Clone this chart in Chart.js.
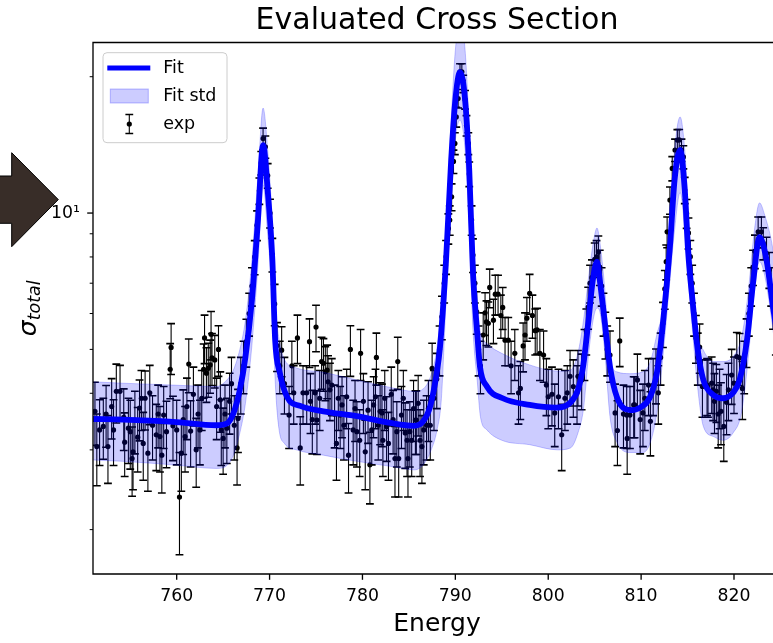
<!DOCTYPE html>
<html><head><meta charset="utf-8">
<script src="https://cdn.jsdelivr.net/npm/chart.js@4.4.1/dist/chart.umd.min.js"></script>
<style>
html,body{margin:0;padding:0;overflow:hidden;background:#fff;width:773px;height:643px}
#wrap{position:absolute;left:0;top:0;width:800px;height:643px}
</style></head><body>
<div id="wrap"><canvas id="c" width="800" height="643"></canvas></div>
<script>
const titleText = "Evaluated Cross Section";
const xLabel = "Energy";
const yLabelMain = "σ";
const yLabelSub = "total";
const legendLabels = ["Fit", "Fit std", "exp"];
const xTickValues = [760, 770, 780, 790, 800, 810, 820];
const yTickValues = [2, 3, 4, 5, 6, 7, 8, 9, 10, 20];
const yTickLabels = {10: "10¹"};
const xMin = 750.99, xMax = 825.06;
const yMin = 1.596, yMax = 23.8;

const expEnergy = [
751.2,751.4,751.7,752.1,752.4,752.6,753.0,753.2,753.5,753.9,
754.3,754.4,754.8,755.0,755.2,755.3,755.5,755.8,756.0,756.2,
756.4,756.6,756.9,757.1,757.4,757.8,758.0,758.2,758.4,758.6,
758.9,759.3,759.4,759.6,760.0,760.3,760.5,760.7,760.9,761.1,
761.3,761.5,761.8,762.1,762.3,762.5,762.7,762.9,763.0,763.2,
763.4,763.6,763.7,763.8,764.1,764.3,764.5,764.7,764.8,765.0,
765.2,765.4,765.7,765.9,766.2,766.5,766.6,766.9,767.2,767.5,
767.8,768.1,768.4,768.65,768.9,769.1,769.3,769.55,769.8,770.05,
770.3,770.55,770.8,771.1,771.3,771.6,772.1,772.4,772.6,773.0,
773.3,773.6,774.0,774.3,774.4,774.6,774.9,775.0,775.1,775.4,
775.6,775.8,776.0,776.2,776.3,776.5,776.7,777.0,777.2,777.4,
777.6,777.8,778.0,778.3,778.5,778.7,779.0,779.2,779.4,779.7,
779.8,780.1,780.3,780.6,780.8,781.0,781.2,781.4,781.5,781.7,
781.9,782.1,782.2,782.4,782.6,782.8,783.1,783.3,783.5,783.7,
783.8,783.9,784.2,784.4,784.6,784.8,784.9,785.1,785.3,785.5,
785.7,785.8,786.0,786.2,786.4,786.6,786.9,787.1,787.3,787.5,
787.7,788.0,788.3,788.55,788.8,789.0,789.25,789.4,789.6,789.8,
789.95,790.1,790.3,790.5,790.7,790.85,791.05,791.2,791.4,791.5,
791.75,791.9,792.1,792.3,792.5,792.7,793.0,793.2,793.35,793.55,
793.7,794.1,794.3,794.6,794.9,795.1,795.35,795.7,796.0,796.4,
796.8,797.0,797.3,797.5,797.7,798.0,798.3,798.6,798.8,799.1,
799.5,799.8,800.0,800.4,800.7,801.1,801.45,801.8,802.05,802.35,
802.7,803.1,803.2,803.6,803.9,804.1,804.3,804.5,804.7,805.0,
805.2,805.4,805.55,805.75,805.95,806.15,806.35,806.65,807.2,807.45,
807.7,808.1,808.45,808.5,808.8,809.2,809.3,809.6,809.9,810.2,
810.4,810.8,811.0,811.3,811.6,811.85,812.1,812.35,812.55,812.7,
812.8,813.1,813.35,813.65,813.9,814.1,814.35,814.55,814.7,814.9,
815.1,815.3,815.5,815.7,815.9,816.1,816.3,816.6,817.1,817.2,
817.6,817.75,817.9,818.1,818.3,818.45,818.6,818.9,819.2,819.4,
819.75,820.0,820.3,820.6,820.9,821.1,821.35,821.6,821.85,822.05,
822.25,822.6,822.95,823.15,823.5,823.8,824.0,824.2,824.5
];
const expSigma = [
3.65,3.05,3.32,3.38,3.60,3.05,3.74,3.32,4.04,4.04,
3.54,3.12,3.35,3.29,2.87,2.97,3.49,3.20,3.71,3.90,
3.10,3.90,2.95,4.01,3.40,3.24,3.60,3.21,2.92,3.58,
3.29,4.52,5.05,3.39,3.32,2.36,2.95,3.50,3.21,3.74,
4.64,3.30,3.98,3.00,3.60,3.32,3.90,4.52,5.30,4.43,
4.54,4.62,5.40,4.79,4.74,3.74,5.00,3.87,3.32,3.18,
3.60,3.35,3.84,4.20,3.40,3.03,3.52,4.20,4.60,5.20,
6.00,6.90,8.00,9.40,11.20,12.90,14.60,14.00,12.10,10.00,
8.10,6.30,5.10,4.60,4.98,4.20,3.58,4.60,4.01,5.30,
3.03,4.01,4.01,5.20,3.84,3.50,4.01,5.60,3.49,3.90,
4.70,4.66,4.46,4.50,4.24,4.07,4.17,3.60,3.10,3.90,
3.58,3.77,3.40,3.93,2.92,5.00,3.32,3.70,3.29,3.15,
4.90,3.84,2.97,3.67,2.78,3.32,3.77,3.93,4.80,3.40,
3.65,3.62,3.15,3.90,3.38,3.10,3.98,3.50,2.87,3.29,
4.70,2.87,3.58,3.90,3.27,3.15,2.87,3.29,3.15,3.70,
3.49,3.49,3.80,3.15,3.05,3.32,3.40,3.70,3.40,4.54,
3.90,4.30,5.00,5.90,7.00,8.01,9.25,9.65,10.86,13.00,
14.25,16.30,17.90,20.50,20.50,19.30,17.80,15.60,14.25,12.20,
9.65,8.08,7.00,6.05,5.00,4.60,5.38,6.02,5.75,5.71,
6.85,5.80,6.62,6.62,5.94,6.19,5.24,5.24,4.60,4.90,
4.01,4.10,5.09,5.38,5.86,6.65,5.94,5.50,5.52,4.90,
4.86,4.17,3.93,3.98,3.62,3.93,3.24,3.90,4.01,4.36,
4.14,4.01,4.36,4.28,4.90,5.50,6.20,7.00,7.20,7.90,
8.00,8.20,7.60,6.90,6.00,5.40,5.00,4.86,3.62,3.31,
5.22,3.60,3.58,3.18,3.58,3.77,3.77,4.28,3.50,3.62,
3.90,4.17,3.47,4.17,4.40,4.01,4.80,5.70,6.80,7.81,
9.09,10.68,12.55,13.78,14.49,14.50,13.78,13.30,11.24,9.98,
9.04,8.01,7.00,6.00,5.30,4.80,5.06,4.14,4.17,4.14,
4.21,4.07,3.84,4.04,3.60,3.93,3.65,3.38,3.82,4.07,
4.39,4.21,4.82,4.79,4.10,4.60,5.20,6.00,6.90,7.60,
8.24,9.09,9.09,8.58,8.15,7.50,6.90,6.20,5.50
];
const expErr = [
.58,.55,.55,.52,.56,.52,.57,.55,.60,.57,
.55,.50,.55,.57,.50,.52,.55,.52,.57,.59,
.53,.58,.52,.60,.55,.54,.57,.53,.51,.56,
.55,.63,.65,.55,.54,.60,.52,.57,.53,.58,
.63,.55,.59,.52,.57,.54,.59,.62,.65,.61,
.62,.62,.66,.63,.63,.58,.64,.59,.55,.53,
.57,.55,.59,.60,.55,.52,.56,.60,.61,.63,
.65,.67,.69,.71,.75,.77,.80,.79,.76,.73,
.69,.66,.63,.61,.63,.60,.56,.61,.59,.65,
.52,.59,.59,.64,.58,.56,.59,.66,.56,.59,
.62,.62,.61,.61,.60,.59,.60,.57,.53,.59,
.56,.58,.55,.59,.51,.64,.54,.57,.54,.53,
.63,.58,.52,.57,.50,.54,.58,.59,.63,.55,
.57,.57,.53,.59,.55,.53,.59,.56,.51,.54,
.62,.51,.56,.59,.54,.53,.51,.54,.53,.57,
.56,.56,.58,.53,.52,.54,.55,.57,.55,.62,
.59,.60,.63,.65,.67,.69,.71,.72,.74,.77,
.79,.82,.84,.87,.87,.85,.84,.81,.79,.76,
.72,.69,.67,.65,.63,.61,.64,.65,.65,.65,
.67,.65,.67,.67,.65,.66,.64,.64,.61,.63,
.59,.60,.63,.64,.65,.67,.65,.64,.64,.63,
.63,.60,.59,.59,.57,.59,.54,.59,.59,.61,
.60,.59,.61,.60,.63,.64,.66,.67,.68,.69,
.69,.70,.68,.67,.65,.64,.63,.63,.57,.54,
.64,.57,.56,.53,.56,.58,.58,.60,.56,.57,
.59,.60,.56,.60,.61,.59,.63,.65,.67,.69,
.71,.74,.77,.78,.79,.79,.78,.78,.75,.73,
.71,.69,.67,.65,.64,.63,.63,.60,.60,.60,
.60,.59,.58,.59,.57,.59,.57,.55,.58,.59,
.61,.60,.63,.63,.60,.61,.64,.65,.67,.68,
.70,.71,.71,.70,.69,.68,.67,.66,.64
];

const fitEnergy = [
751.0,754.2,759.6,764.3,765.4,766.1,766.8,767.4,768.1,768.75,
769.3,769.8,770.3,770.6,771.1,771.9,773.3,775.8,779.4,783.0,
785.5,786.5,787.3,788.0,788.35,789.0,789.55,790.0,790.5,791.05,
791.5,791.9,792.35,792.65,793.4,795.1,798.0,800.9,802.35,803.2,
803.75,804.3,804.8,805.25,805.55,806.1,806.65,807.4,808.8,809.9,
810.95,811.7,812.35,813.1,813.6,814.2,814.7,815.05,815.6,816.1,
816.7,817.75,818.8,819.9,820.6,821.4,822.05,822.75,823.5,824.2,825.1
];
const fitSigma = [
3.51,3.50,3.46,3.40,3.43,3.61,4.07,4.81,6.43,9.65,
14.13,11.2,7.88,5.24,4.44,3.92,3.75,3.65,3.56,3.44,
3.39,3.46,3.75,4.44,5.06,7.88,13.09,17.77,20.48,17.77,
12.43,7.37,5.44,4.58,4.14,3.90,3.77,3.72,3.81,4.07,
4.58,5.71,7.11,7.81,7.11,5.71,4.58,3.92,3.67,3.72,
3.92,4.44,5.71,8.41,11.82,13.78,11.24,8.29,6.21,4.98,
4.28,3.97,3.90,4.01,4.28,5.24,7.0,8.85,7.88,6.21,4.74
];

const bandEnergy = [
751.0,754.2,759.6,764.3,765.4,766.1,766.8,767.4,768.1,768.75,
769.3,769.8,770.3,770.6,771.0,771.6,772.9,775.8,779.4,783.0,
785.6,786.6,787.4,788.0,788.5,789.0,789.55,790.0,790.5,791.05,
791.5,791.9,792.35,792.7,793.4,795.0,798.0,801.0,802.4,803.2,
803.8,804.4,804.9,805.25,805.6,806.1,806.65,807.4,808.8,810.2,
811.0,811.7,812.35,813.1,813.6,814.2,814.7,815.1,815.6,816.0,
816.7,817.8,818.8,819.9,820.8,821.5,822.2,822.75,823.3,824.2,825.1
];
const bandUpper = [
4.24,4.21,4.17,4.14,4.28,4.50,5.0,5.80,7.88,12.1,
17.05,13.78,9.41,6.43,5.3,4.75,4.55,4.45,4.28,4.12,
4.04,4.10,4.40,5.0,6.3,9.17,16.04,22.9,26.7,22.9,
15.2,9.17,6.43,5.45,5.15,4.90,4.62,4.48,4.50,4.91,
5.80,7.37,8.72,9.27,8.5,6.76,4.80,4.46,4.42,4.46,
4.70,5.4,6.2,9.65,13.78,16.3,13.78,10.0,7.11,5.5,
4.98,4.70,4.70,4.82,5.3,6.6,9.17,10.53,9.9,8.29,5.8
];
const bandLower = [
2.85,2.83,2.78,2.73,2.77,2.92,3.27,3.80,5.11,7.68,
11.53,8.94,6.43,4.28,3.35,3.10,3.00,2.92,2.83,2.76,
2.71,2.79,3.00,3.30,3.9,6.43,10.68,14.49,16.04,13.78,
9.17,5.52,4.28,3.55,3.32,3.15,3.08,3.00,3.03,3.27,
3.70,5.0,5.9,6.17,6.0,4.9,3.55,3.12,2.96,2.96,
3.12,3.63,4.82,7.11,9.17,11.1,9.17,7.0,5.3,4.28,
3.38,3.21,3.15,3.27,3.62,4.7,6.76,7.81,7.29,5.52,3.87
];

const FONT = "'DejaVu Sans', sans-serif";
Chart.defaults.font.family = FONT;
Chart.defaults.color = '#000';

const pts = (xs, ys) => xs.map((x, i) => ({x: x, y: ys[i]}));

const errorBarPlugin = {
  id: 'errorBars',
  beforeDatasetDraw(chart, args) {
    const ds = chart.data.datasets[args.index];
    if (!ds.errors) return;
    const xs = chart.scales.x, ys = chart.scales.y, ctx = chart.ctx, a = chart.chartArea;
    ctx.save();
    ctx.beginPath(); ctx.rect(a.left, a.top, a.right - a.left, a.bottom - a.top); ctx.clip();
    ctx.strokeStyle = '#000';
    ds.data.forEach((p, i) => {
      const e = ds.errors[i];
      const px = xs.getPixelForValue(p.x);
      const top = ys.getPixelForValue(p.y + e);
      const bot = ys.getPixelForValue(Math.max(p.y - e, 0.01));
      ctx.lineWidth = 1.1;
      ctx.beginPath(); ctx.moveTo(px, top); ctx.lineTo(px, bot); ctx.stroke();
      ctx.lineWidth = 1.6;
      ctx.beginPath();
      ctx.moveTo(px - 3.9, top); ctx.lineTo(px + 3.9, top);
      ctx.moveTo(px - 3.9, bot); ctx.lineTo(px + 3.9, bot);
      ctx.stroke();
    });
    ctx.restore();
  }
};

const framePlugin = {
  id: 'frame',
  afterDatasetsDraw(chart) {
    const ctx = chart.ctx, a = chart.chartArea, xs = chart.scales.x, ys = chart.scales.y;
    ctx.save();
    ctx.strokeStyle = '#000';
    ctx.lineWidth = 1.33;
    ctx.beginPath();
    ctx.moveTo(a.left, a.bottom); ctx.lineTo(a.left, a.top); ctx.lineTo(a.right, a.top);
    ctx.lineTo(a.right, a.bottom); ctx.closePath(); ctx.stroke();
    xTickValues.forEach(v => {
      const px = xs.getPixelForValue(v);
      ctx.beginPath(); ctx.moveTo(px, a.bottom); ctx.lineTo(px, a.bottom + 5.8); ctx.stroke();
    });
    yTickValues.forEach(v => {
      const py = ys.getPixelForValue(v);
      const major = v === 10;
      ctx.lineWidth = major ? 1.33 : 1.0;
      ctx.beginPath(); ctx.moveTo(a.left, py); ctx.lineTo(a.left - (major ? 5.8 : 3.3), py); ctx.stroke();
    });
    ctx.restore();
  }
};

const decorPlugin = {
  id: 'decor',
  afterDraw(chart) {
    const ctx = chart.ctx, a = chart.chartArea;
    // y axis label with subscript
    ctx.save();
    ctx.translate(36, (a.top + a.bottom) / 2);
    ctx.rotate(-Math.PI / 2);
    ctx.fillStyle = '#000';
    ctx.textBaseline = 'alphabetic';
    ctx.font = "italic 25px 'DejaVu Sans'";
    const w1 = ctx.measureText(yLabelMain).width;
    ctx.font = "italic 17.5px 'DejaVu Sans'";
    const w2 = ctx.measureText(yLabelSub).width;
    const start = -(w1 + w2) / 2;
    ctx.font = "italic 25px 'DejaVu Sans'";
    ctx.fillText(yLabelMain, start, 0);
    ctx.font = "italic 17.5px 'DejaVu Sans'";
    ctx.fillText(yLabelSub, start + w1, 4);
    ctx.restore();

    // legend
    ctx.save();
    const bx = a.left + 10, by = a.top + 10.2, bw = 124, bh = 90, r = 4;
    ctx.beginPath();
    ctx.moveTo(bx + r, by); ctx.lineTo(bx + bw - r, by); ctx.arcTo(bx + bw, by, bx + bw, by + r, r);
    ctx.lineTo(bx + bw, by + bh - r); ctx.arcTo(bx + bw, by + bh, bx + bw - r, by + bh, r);
    ctx.lineTo(bx + r, by + bh); ctx.arcTo(bx, by + bh, bx, by + bh - r, r);
    ctx.lineTo(bx, by + r); ctx.arcTo(bx, by, bx + r, by, r); ctx.closePath();
    ctx.fillStyle = 'rgba(255,255,255,0.8)'; ctx.fill();
    ctx.strokeStyle = '#cccccc'; ctx.lineWidth = 1; ctx.stroke();
    const rows = [by + 15.3, by + 43.3, by + 71.3];
    // Fit
    ctx.strokeStyle = '#0000ff'; ctx.lineWidth = 5; ctx.lineCap = 'butt';
    ctx.beginPath(); ctx.moveTo(bx + 4.3, rows[0]); ctx.lineTo(bx + 47.3, rows[0]); ctx.stroke();
    // Fit std
    ctx.fillStyle = 'rgba(0,0,255,0.2)';
    ctx.fillRect(bx + 7.3, rows[1] - 7, 38, 14);
    ctx.strokeStyle = 'rgba(0,0,255,0.25)'; ctx.lineWidth = 1;
    ctx.strokeRect(bx + 7.3, rows[1] - 7, 38, 14);
    // exp
    const ex = bx + 26.3;
    ctx.strokeStyle = '#000'; ctx.lineWidth = 1.1;
    ctx.beginPath(); ctx.moveTo(ex, rows[2] - 9.5); ctx.lineTo(ex, rows[2] + 9.5); ctx.stroke();
    ctx.lineWidth = 1.6;
    ctx.beginPath();
    ctx.moveTo(ex - 3.9, rows[2] - 9.5); ctx.lineTo(ex + 3.9, rows[2] - 9.5);
    ctx.moveTo(ex - 3.9, rows[2] + 9.5); ctx.lineTo(ex + 3.9, rows[2] + 9.5);
    ctx.stroke();
    ctx.fillStyle = '#000';
    ctx.beginPath(); ctx.arc(ex, rows[2], 2.6, 0, Math.PI * 2); ctx.fill();
    // texts
    ctx.font = "17.5px 'DejaVu Sans'";
    ctx.textBaseline = 'middle'; ctx.textAlign = 'left';
    legendLabels.forEach((t, i) => ctx.fillText(t, bx + 60.3, rows[i]));
    ctx.restore();

    // decorative arrow at the left edge
    ctx.save();
    ctx.beginPath();
    ctx.moveTo(-5, 176); ctx.lineTo(11.7, 176); ctx.lineTo(11.7, 152.7); ctx.lineTo(58.3, 199.6);
    ctx.lineTo(11.7, 246.7); ctx.lineTo(11.7, 223.3); ctx.lineTo(-5, 223.3); ctx.closePath();
    ctx.fillStyle = '#382d28'; ctx.fill();
    ctx.strokeStyle = '#000'; ctx.lineWidth = 1; ctx.stroke();
    ctx.restore();
  }
};

new Chart(document.getElementById('c'), {
  type: 'scatter',
  data: {
    datasets: [
      {label: legendLabels[2], type: 'scatter', data: pts(expEnergy, expSigma), errors: expErr,
       pointRadius: 2.6, pointBackgroundColor: '#000', pointBorderWidth: 0, showLine: false, order: 3},
      {label: legendLabels[1] + ' upper', type: 'line', data: pts(bandEnergy, bandUpper),
       borderColor: 'rgba(0,0,255,0.22)', borderWidth: 1, pointRadius: 0, fill: '+1',
       backgroundColor: 'rgba(0,0,255,0.2)', cubicInterpolationMode: 'monotone', order: 2},
      {label: legendLabels[1], type: 'line', data: pts(bandEnergy, bandLower),
       borderColor: 'rgba(0,0,255,0.22)', borderWidth: 1, pointRadius: 0, fill: false,
       cubicInterpolationMode: 'monotone', order: 2},
      {label: legendLabels[0], type: 'line', data: pts(fitEnergy, fitSigma),
       borderColor: '#0000ff', borderWidth: 5.8, pointRadius: 0, fill: false,
       cubicInterpolationMode: 'monotone', order: 1}
    ]
  },
  options: {
    responsive: false, animation: false, devicePixelRatio: 1,
    layout: {padding: {left: 0, right: 19, top: 0, bottom: 0}},
    plugins: {
      legend: {display: false}, tooltip: {enabled: false},
      title: {display: true, text: titleText, fullSize: false, color: '#000',
              font: {size: 30, weight: 'normal', family: FONT}, padding: {top: 3, bottom: 3.5}}
    },
    scales: {
      x: {type: 'linear', min: xMin, max: xMax,
          grid: {display: false, drawTicks: false}, border: {display: false},
          afterBuildTicks: s => { s.ticks = xTickValues.map(v => ({value: v})); },
          afterFit: s => { s.height = 69; },
          ticks: {autoSkip: false, maxRotation: 0, padding: 12, font: {size: 17.3}, color: '#000',
                  callback: v => String(v)},
          title: {display: true, text: xLabel, color: '#000', font: {size: 25}, padding: {top: 0, bottom: 4}}},
      y: {type: 'logarithmic', min: yMin, max: yMax,
          grid: {display: false, drawTicks: false}, border: {display: false},
          afterBuildTicks: s => { s.ticks = yTickValues.map(v => ({value: v})); },
          afterFit: s => { s.width = 93; },
          ticks: {autoSkip: false, padding: 13, font: {size: 17.3}, color: '#000',
                  callback: v => yTickLabels[v] || ''}}
    }
  },
  plugins: [errorBarPlugin, framePlugin, decorPlugin]
});
</script>
</body></html>
